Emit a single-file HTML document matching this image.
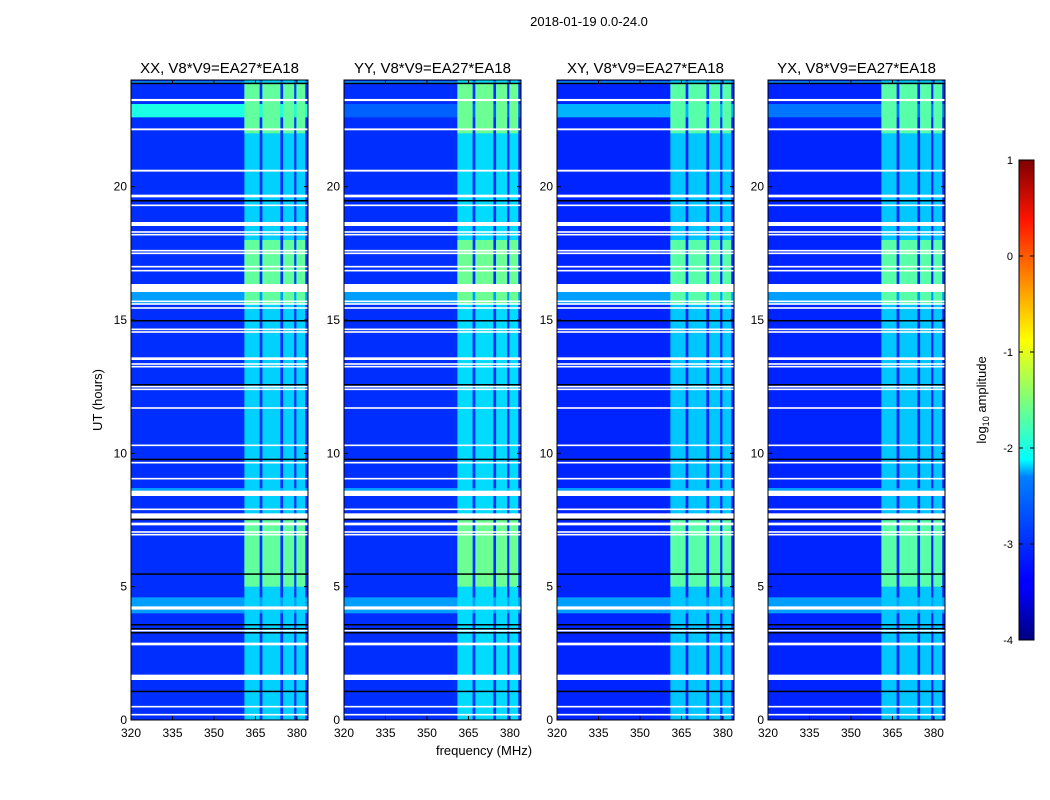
<!DOCTYPE html>
<html><head><meta charset="utf-8"><style>
body{margin:0;background:#fff;}
svg{display:block;font-family:"Liberation Sans",sans-serif;}
</style></head><body>
<svg id="chart" width="1050" height="800" viewBox="0 0 1050 800">
<defs>
<linearGradient id="jet" x1="0" y1="1" x2="0" y2="0">
<stop offset="0" stop-color="#00007f"/><stop offset="0.11" stop-color="#0000ff"/><stop offset="0.125" stop-color="#0000ff"/>
<stop offset="0.34" stop-color="#0080ff"/><stop offset="0.375" stop-color="#00ffff" /><stop offset="0.5" stop-color="#7dff7a"/>
<stop offset="0.625" stop-color="#ffff00"/><stop offset="0.875" stop-color="#ff1400"/><stop offset="1" stop-color="#7f0000"/>
</linearGradient>
</defs>
<text x="589" y="26" font-size="13" text-anchor="middle">2018-01-19 0.0-24.0</text>
<text x="484" y="755" font-size="13" text-anchor="middle">frequency (MHz)</text>
<text transform="translate(102,400) rotate(-90)" font-size="13" text-anchor="middle">UT (hours)</text>
<g id="panels"></g>
<g id="cbar"></g>
</svg>
<script>
const panelNames=["XX","YY","XY","YX"];
const panelX=[131,344,557,768];
const freqTicks=[320,335,350,365,380];
const timeTicks=[0,5,10,15,20];
const baseLevel=[-3.15,-3.15,-3.2,-3.2];
const bandCols=[[361,366.5],[367.5,374],[375,379],[379.8,383]];
const bandLevel=[-2.35,-2.3,-2.4,-2.4];
const activeWindows=[[5.0,7.6],[15.6,18.0],[22.0,23.9]];
const activeLevel=[-1.65,-1.6,-1.7,-1.7];
const hotRows=[[22.6,23.1]];
const hotLevel=[-2.0,-2.9,-2.5,-2.8];
const brightRows=[[4.0,4.6],[8.4,8.7],[15.6,16.1],[23.85,23.95]];
const brightLevel=-2.6;
const flagTimes=[23.25,22.15,20.6,19.65,19.3,18.6,18.3,18.2,17.6,17.5,17.0,16.85,16.2,15.7,15.6,15.45,14.65,14.55,13.55,13.35,13.25,12.5,12.4,11.7,10.3,9.65,9.05,8.5,8.45,7.9,7.65,7.35,7.05,6.95,4.2,3.35,2.85,1.6,0.5,0.2];
const flagWidths=[0.08,0.07,0.07,0.1,0.06,0.15,0.06,0.06,0.06,0.06,0.06,0.06,0.3,0.06,0.06,0.06,0.06,0.06,0.1,0.06,0.06,0.06,0.06,0.06,0.06,0.06,0.06,0.2,0.06,0.06,0.2,0.1,0.06,0.06,0.12,0.06,0.1,0.2,0.06,0.06];
const blackTimes=[23.9,19.5,15.0,12.6,9.8,7.55,5.5,3.6,3.45,3.3,1.1];

const NS="http://www.w3.org/2000/svg";
function jet(v){let t=Math.max(0,Math.min(1,(v+4)/5));
 const c=x=>Math.round(255*Math.max(0,Math.min(1,x)));
 return `rgb(${c(1.5-Math.abs(4*t-3))},${c(1.5-Math.abs(4*t-2))},${c(1.5-Math.abs(4*t-1))})`;}
function mk(tag,attrs,parent){const e=document.createElementNS(NS,tag);for(const k in attrs)e.setAttribute(k,attrs[k]);parent.appendChild(e);return e;}
const W=177,Y0=80,H=640;
const root=document.getElementById("panels");
panelNames.forEach((nm,p)=>{
 const x0=panelX[p];
 const xs=f=>x0+(f-320)*W/64;
 const ys=h=>Y0+H-h*H/24;
 const g=mk("g",{},root);
 
 
 const bg=mk("rect",{x:x0,y:Y0,width:W,height:H,fill:jet(baseLevel[p])},g);
 
 
 brightRows.forEach(r=>{const e=mk("rect",{x:x0,y:ys(r[1]),width:W,height:ys(r[0])-ys(r[1]),fill:jet(brightLevel)},g);
  
  });
 hotRows.forEach(r=>{const e=mk("rect",{x:x0,y:ys(r[1]),width:W,height:ys(r[0])-ys(r[1]),fill:jet(hotLevel[p])},g);
  
  });
 bandCols.forEach(c=>{
  const e=mk("rect",{x:xs(c[0]),y:Y0,width:xs(c[1])-xs(c[0]),height:H,fill:jet(bandLevel[p])},g);
  
  
  activeWindows.forEach(w=>{const a=mk("rect",{x:xs(c[0]),y:ys(w[1]),width:xs(c[1])-xs(c[0]),height:ys(w[0])-ys(w[1]),fill:jet(activeLevel[p])},g);
   
   });
 });
 flagTimes.forEach((t,i)=>{const e=mk("rect",{x:x0,y:ys(t+flagWidths[i]/2),width:W,height:Math.max(1.5,flagWidths[i]*H/24),fill:"#fff"},g);
  
  });
 blackTimes.forEach(t=>{const e=mk("rect",{x:x0,y:ys(t),width:W,height:1.5,fill:"#000"},g);
  
  });
 const fr=mk("rect",{x:x0,y:Y0,width:W,height:H,fill:"none",stroke:"#000","stroke-width":1},g);
 
 
 const ti=mk("text",{x:x0+W/2,y:73,"font-size":15,"text-anchor":"middle"},g);
 ti.textContent=nm+", V8*V9=EA27*EA18";
 
 
 freqTicks.forEach(f=>{mk("line",{x1:xs(f),x2:xs(f),y1:Y0+H,y2:Y0+H-4,stroke:"#000"},g);
  mk("line",{x1:xs(f),x2:xs(f),y1:Y0,y2:Y0+4,stroke:"#000"},g);
  const t=mk("text",{x:xs(f),y:737,"font-size":12,"text-anchor":"middle"},g);t.textContent=f;
  
  });
 timeTicks.forEach(h=>{mk("line",{x1:x0,x2:x0+4,y1:ys(h),y2:ys(h),stroke:"#000"},g);
  mk("line",{x1:x0+W,x2:x0+W-4,y1:ys(h),y2:ys(h),stroke:"#000"},g);
  const t=mk("text",{x:x0-4,y:ys(h)+4,"font-size":12,"text-anchor":"end"},g);t.textContent=h;
  
  });
});
const cbTicks=[1,0,-1,-2,-3,-4];
const cb=document.getElementById("cbar");
const cy=v=>160+(1-v)*480/5;
mk("rect",{x:1019,y:160,width:15,height:480,fill:"url(#jet)",stroke:"#000"},cb);
cbTicks.forEach(v=>{mk("line",{x1:1019,x2:1023,y1:cy(v),y2:cy(v),stroke:"#000"},cb);
 mk("line",{x1:1034,x2:1030,y1:cy(v),y2:cy(v),stroke:"#000"},cb);
 const t=mk("text",{x:1013,y:cy(v)+4,"font-size":11,"text-anchor":"end"},cb);t.textContent=v;
 
 });
const lab=mk("text",{transform:"translate(986,400) rotate(-90)","font-size":13,"text-anchor":"middle"},cb);
lab.innerHTML='log<tspan font-size="9" dy="3">10</tspan><tspan dy="-3"> amplitude</tspan>';


</script>
</body></html>
